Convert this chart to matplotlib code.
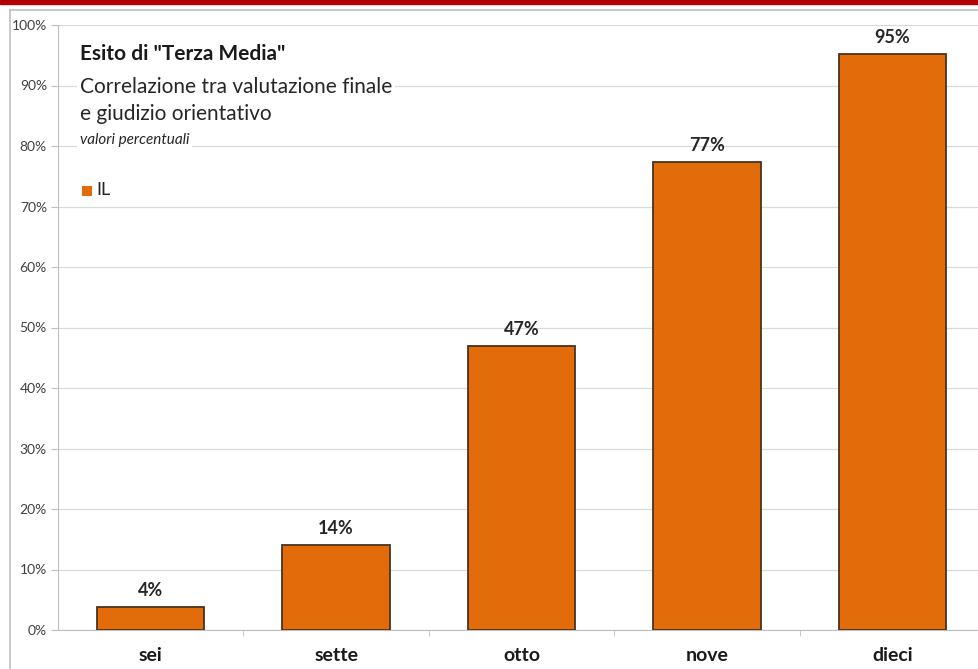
import matplotlib.pyplot as plt
from matplotlib.patches import Rectangle
from matplotlib.lines import Line2D

categories = ["sei", "sette", "otto", "nove", "dieci"]
values = [3.8, 14.1, 47.0, 77.4, 95.2]
yticks = [0, 10, 20, 30, 40, 50, 60, 70, 80, 90, 100]

plt.rcParams["font.family"] = ["Lato", "DejaVu Sans"]

BAR = "#E36C0A"
EDGE = "#4a3320"
GRID = "#d9d9d9"

fig = plt.figure(figsize=(9.79, 6.69), dpi=100)
W, H = 979, 669

# red band at top + grey frame
fig.patches.append(Rectangle((0, 1 - 4 / H), 1, 4 / H, transform=fig.transFigure,
                             color="#b00000", zorder=0))
fig.lines.append(Line2D([10 / W, 1], [1 - 10 / H, 1 - 10 / H], transform=fig.transFigure,
                        color="#bfbfbf", linewidth=1.2))
fig.lines.append(Line2D([10 / W, 10 / W], [0, 1 - 10 / H], transform=fig.transFigure,
                        color="#bfbfbf", linewidth=1.2))

ax = fig.add_axes([58 / W, 39 / H, (985 - 58) / W, 605 / H])
x = range(len(categories))
ax.bar(x, values, width=0.58, color=BAR, edgecolor=EDGE, linewidth=1.3, zorder=3)
for xi, v in zip(x, values):
    ax.text(xi, v + 1.3, f"{round(v)}%", ha="center", va="bottom",
            fontsize=13, fontweight="bold", color="#262626")

ax.set_xlim(-0.5, len(categories) - 0.5)
ax.set_ylim(0, 100)
ax.set_yticks(yticks)
ax.set_yticklabels([f"{t}%" for t in yticks], fontsize=10, color="#404040")
ax.set_xticks(list(x))
ax.set_xticklabels(categories, fontsize=14, fontweight="bold", color="#1a1a1a")
ax.set_xticks([i + 0.5 for i in range(len(categories) - 1)], minor=True)
ax.tick_params(axis="x", which="major", length=0, pad=12)
ax.tick_params(axis="x", which="minor", length=4, color="#bfbfbf", direction="out")
ax.tick_params(axis="y", length=5, color="#bfbfbf", pad=3)
ax.grid(axis="y", color=GRID, linewidth=0.9, zorder=0)
for s in ["top", "right"]:
    ax.spines[s].set_visible(False)
for s in ["left", "bottom"]:
    ax.spines[s].set_color("#bfbfbf")

# title block
bb = dict(facecolor="white", edgecolor="none", pad=2)
fig.text(80 / W, 1 - 54 / H, 'Esito di "Terza Media"', fontsize=15, fontweight="bold",
         color="#1a1a1a", va="center", bbox=bb)
fig.text(80 / W, 1 - 87 / H, "Correlazione tra valutazione finale", fontsize=15,
         color="#262626", va="center", bbox=bb)
fig.text(80 / W, 1 - 114 / H, "e giudizio orientativo", fontsize=15,
         color="#262626", va="center", bbox=bb)
fig.text(80 / W, 1 - 140 / H, "valori percentuali", fontsize=11, style="italic",
         color="#262626", va="center", bbox=bb)
fig.patches.append(Rectangle((82 / W, 1 - 196 / H), 10 / W, 10 / H, transform=fig.transFigure,
                             facecolor=BAR, edgecolor="none"))
fig.text(96 / W, 1 - 190 / H, "IL", fontsize=13, color="#262626", va="center", bbox=bb)

fig.savefig("out.png", dpi=100)
